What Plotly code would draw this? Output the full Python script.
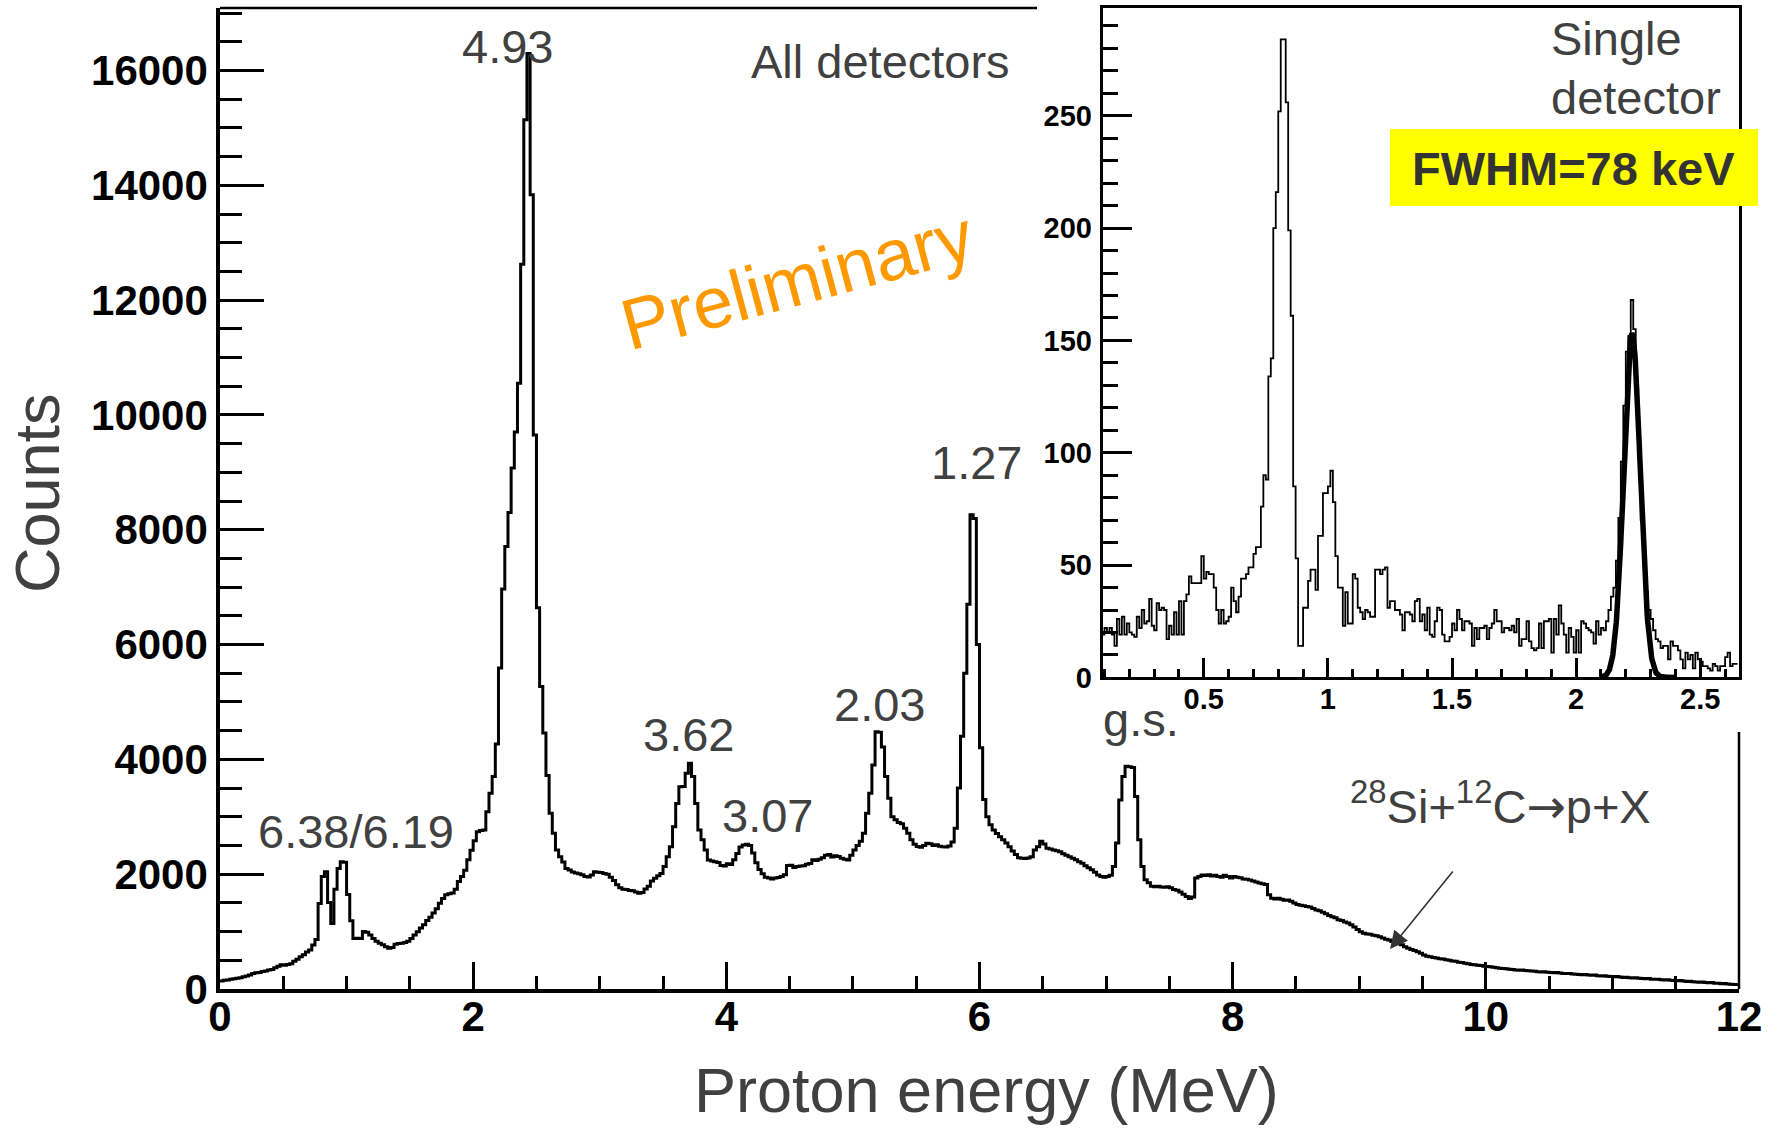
import plotly.graph_objects as go

W, H = 1777, 1131

# ---------------- All-detector proton spectrum (0.025 MeV bins, 0-12 MeV) ----------------
MAIN_BIN = 0.025
main_counts = [
    140, 152, 158, 171, 178, 188, 197, 214, 228, 246,
    268, 281, 288, 307, 313, 332, 341, 372, 398, 421,
    412, 427, 438, 482, 518, 563, 598, 644, 678, 765,
    862, 1490, 1958, 2042, 1508, 1142, 1738, 2098, 2218, 2206,
    1648, 1188, 878, 886, 880, 1002, 988, 942, 878, 832,
    798, 772, 738, 712, 722, 781, 792, 798, 812, 834,
    878, 942, 998, 1062, 1118, 1192, 1248, 1322, 1398, 1492,
    1578, 1642, 1658, 1672, 1738, 1872, 1958, 2068, 2252, 2418,
    2582, 2738, 2762, 2771, 3088, 3408, 3702, 4268, 5590, 6968,
    7708, 8302, 9078, 9702, 10552, 12624, 15144, 16296, 13838, 9650,
    6640, 5268, 4458, 3718, 3062, 2712, 2422, 2302, 2212, 2098,
    2072, 2038, 2022, 2008, 1992, 1958, 1952, 1988, 2042, 2036,
    2028, 2012, 1998, 1948, 1892, 1818, 1762, 1738, 1732, 1718,
    1712, 1688, 1668, 1682, 1742, 1788, 1882, 1928, 1972, 2012,
    2132, 2302, 2478, 2828, 3232, 3522, 3528, 3758, 3932, 3702,
    3232, 2772, 2598, 2422, 2248, 2232, 2218, 2202, 2152, 2142,
    2182, 2168, 2252, 2362, 2472, 2508, 2522, 2498, 2368, 2198,
    2082, 2008, 1948, 1932, 1918, 1932, 1942, 1958, 1992, 2152,
    2158, 2118, 2132, 2142, 2148, 2172, 2188, 2252, 2238, 2262,
    2288, 2332, 2342, 2298, 2322, 2308, 2278, 2262, 2248, 2332,
    2422, 2498, 2572, 2712, 3062, 3408, 3902, 4482, 4472, 4218,
    3702, 3322, 3002, 2948, 2902, 2878, 2802, 2712, 2598, 2522,
    2482, 2468, 2502, 2538, 2532, 2498, 2512, 2488, 2478, 2472,
    2492, 2562, 2802, 3502, 4402, 5502, 6702, 8262, 8198, 6002,
    4202, 3302, 3002, 2862, 2772, 2708, 2652, 2598, 2542, 2478,
    2402, 2342, 2288, 2278, 2272, 2282, 2302, 2422, 2478, 2572,
    2528, 2452, 2438, 2422, 2408, 2392, 2358, 2332, 2302, 2278,
    2252, 2218, 2192, 2148, 2112, 2078, 2032, 1988, 1962, 1948,
    1958, 1982, 2132, 2542, 3292, 3702, 3882, 3872, 3858, 3352,
    2598, 2132, 1902, 1852, 1788, 1782, 1792, 1778, 1772, 1782,
    1762, 1732, 1722, 1688, 1652, 1612, 1578, 1602, 1932, 1962,
    1988, 1978, 1992, 1968, 1982, 1958, 1948, 1982, 1962, 1932,
    1958, 1948, 1938, 1918, 1912, 1898, 1882, 1862, 1848, 1832,
    1822, 1642, 1582, 1568, 1582, 1562, 1548, 1552, 1528, 1498,
    1472, 1458, 1452, 1438, 1428, 1402, 1378, 1362, 1338, 1312,
    1282, 1258, 1242, 1208, 1192, 1168, 1148, 1118, 1082, 1038,
    998, 972, 958, 952, 938, 928, 912, 888, 868, 852,
    828, 812, 788, 772, 738, 712, 688, 672, 648, 622,
    592, 572, 562, 548, 542, 528, 522, 508, 502, 488,
    482, 468, 462, 448, 442, 428, 422, 412, 408, 398,
    392, 388, 378, 372, 362, 358, 352, 342, 338, 332,
    328, 332, 322, 318, 312, 308, 302, 298, 302, 292,
    288, 282, 286, 278, 272, 268, 272, 262, 258, 252,
    248, 252, 242, 238, 242, 232, 228, 232, 222, 218,
    212, 216, 208, 202, 206, 198, 192, 196, 188, 182,
    178, 182, 172, 168, 172, 162, 158, 162, 152, 148,
    142, 146, 138, 132, 136, 128, 122, 118, 122, 112,
    108, 112, 102, 98, 92, 96, 88, 82, 78, 80,
]

# ---------------- Single-detector spectrum (0.01 bins starting at 0.09) ----------------
INSET_START = 0.09
INSET_BIN = 0.01
inset_counts = [
    19, 22, 20, 22, 19, 14, 26, 19, 27, 19,
    24, 20, 19, 18, 27, 22, 30, 24, 25, 35,
    23, 21, 33, 30, 31, 30, 17, 23, 19, 29,
    19, 34, 19, 34, 37, 45, 42, 42, 42, 42,
    54, 44, 47, 46, 46, 40, 30, 24, 30, 24,
    25, 27, 40, 34, 29, 36, 44, 44, 46, 49,
    49, 55, 58, 58, 76, 90, 88, 134, 142, 200,
    216, 252, 284, 284, 256, 199, 161, 85, 53, 14,
    14, 31, 31, 43, 48, 48, 39, 63, 63, 82,
    82, 85, 92, 78, 54, 40, 40, 23, 38, 24,
    24, 46, 44, 31, 29, 26, 30, 29, 27, 27,
    48, 48, 46, 48, 49, 31, 34, 34, 30, 30,
    28, 21, 29, 29, 28, 25, 34, 35, 25, 28,
    21, 31, 19, 18, 25, 31, 30, 19, 16, 16,
    18, 24, 21, 30, 26, 21, 25, 25, 24, 14,
    22, 17, 22, 22, 23, 17, 22, 24, 30, 25,
    25, 20, 22, 22, 21, 23, 20, 26, 14, 17,
    17, 25, 16, 13, 12, 13, 24, 13, 25, 25,
    26, 11, 26, 19, 32, 24, 19, 11, 22, 18,
    11, 21, 11, 25, 24, 22, 21, 20, 15, 25,
    19, 22, 21, 25, 30, 36, 40, 52, 71, 96,
    121, 145, 152, 168, 155, 129, 100, 70, 54, 38,
    30, 26, 21, 17, 16, 13, 14, 14, 8, 16,
    14, 14, 12, 8, 4, 11, 8, 10, 4, 11,
    8, 7, 5, 5, 4, 3, 6, 5, 3, 5,
    5, 9, 11, 5, 6, 6,
]

# Gaussian fit of the elastic peak
FIT_MEAN = 2.225
FIT_FWHM_KEV = 78
FIT_AMPLITUDE = 153
FIT_RANGE = (2.10, 2.40)

peak_labels = ["6.38/6.19", "4.93", "3.62", "3.07", "2.03", "1.27", "g.s."]
peak_label_px = [(356, 831), (507, 47), (688, 734), (767, 815), (879, 704), (976, 462), (1141, 719)]

FONT = "Liberation Sans, Arial, sans-serif"
TEXT_GREY = "#404040"


def paper(x, y):
    """Page pixel position -> paper coordinates (margins are zero)."""
    return x / W, 1 - y / H


def step_xy(start, width, counts):
    xs = [start + i * width for i in range(len(counts))] + [start + len(counts) * width]
    ys = list(counts) + [counts[-1]]
    return xs, ys


mx, my = step_xy(0.0, MAIN_BIN, main_counts)
ix, iy = step_xy(INSET_START, INSET_BIN, inset_counts)

sigma = FIT_FWHM_KEV / 1000.0 / 2.3548
n_fit = 200
fx = [FIT_RANGE[0] + (FIT_RANGE[1] - FIT_RANGE[0]) * k / n_fit for k in range(n_fit + 1)]
fy = [FIT_AMPLITUDE * 2.718281828 ** (-0.5 * ((v - FIT_MEAN) / sigma) ** 2) for v in fx]

fig = go.Figure()
fig.add_trace(go.Scatter(x=mx, y=my, mode="lines", line=dict(shape="hv", color="black", width=3),
                         xaxis="x", yaxis="y", showlegend=False, hoverinfo="skip"))
fig.add_trace(go.Scatter(x=ix, y=iy, mode="lines", line=dict(shape="hv", color="black", width=1.8),
                         xaxis="x2", yaxis="y2", showlegend=False, hoverinfo="skip"))
fig.add_trace(go.Scatter(x=fx, y=fy, mode="lines", line=dict(color="black", width=5.5),
                         xaxis="x2", yaxis="y2", showlegend=False, hoverinfo="skip"))

main_left, main_right, main_top, main_bottom = 220, 1739, 8, 989
in_left, in_right, in_top, in_bottom = 1102.5, 1738.5, 8, 677.4

tick_font_main = dict(family=FONT, size=42, color="black", weight="bold")
tick_font_inset = dict(family=FONT, size=29, color="black", weight="bold")

fig.update_layout(
    width=W, height=H,
    margin=dict(l=0, r=0, t=0, b=0, autoexpand=False),
    paper_bgcolor="white", plot_bgcolor="white",
    showlegend=False,
    xaxis=dict(domain=[main_left / W, main_right / W], range=[0, 12], anchor="y", automargin=False,
               showline=True, linecolor="black", linewidth=3.5, mirror=False,
               ticks="inside", ticklen=27, tickwidth=3, tickcolor="black",
               tick0=0, dtick=2, tickfont=tick_font_main, ticklabelstandoff=-12,
               minor=dict(ticks="inside", ticklen=13, tickwidth=3, tickcolor="black", dtick=0.5, tick0=0),
               showgrid=False, zeroline=False),
    yaxis=dict(domain=[1 - main_bottom / H, 1 - main_top / H], range=[0, 17090], anchor="x", automargin=False,
               showline=True, linecolor="black", linewidth=3.5, mirror=False,
               ticks="inside", ticklen=44, tickwidth=3, tickcolor="black",
               tick0=0, dtick=2000, tickformat="d", tickfont=tick_font_main, ticklabelstandoff=0,
               minor=dict(ticks="inside", ticklen=22, tickwidth=3, tickcolor="black", dtick=500, tick0=0),
               showgrid=False, zeroline=False),
    xaxis2=dict(domain=[in_left / W, in_right / W], range=[0.092, 2.654], anchor="y2", automargin=False,
                showline=True, linecolor="black", linewidth=2.5, mirror=True,
                ticks="inside", ticklen=20, tickwidth=2.5, tickcolor="black",
                tick0=0, dtick=0.5, tickfont=tick_font_inset, ticklabelstandoff=-6,
                minor=dict(ticks="inside", ticklen=9, tickwidth=2.5, tickcolor="black", dtick=0.1, tick0=0),
                showgrid=False, zeroline=False),
    yaxis2=dict(domain=[1 - in_bottom / H, 1 - in_top / H], range=[0, 298], anchor="x2", automargin=False,
                showline=True, linecolor="black", linewidth=2.5, mirror=True,
                ticks="inside", ticklen=30, tickwidth=2.5, tickcolor="black",
                tick0=0, dtick=50, tickfont=tick_font_inset, ticklabelstandoff=2,
                minor=dict(ticks="inside", ticklen=16, tickwidth=2.5, tickcolor="black", dtick=10, tick0=0),
                showgrid=False, zeroline=False),
)

shapes = []
# upper and right edges of the main frame (partly hidden behind the inset)
x0, y0 = paper(main_left, main_top)
x1, _ = paper(1037, main_top)
shapes.append(dict(type="line", xref="paper", yref="paper", x0=x0, y0=y0, x1=x1, y1=y0,
                   line=dict(color="black", width=2.5), layer="above"))
xr, yr0 = paper(main_right, 732)
_, yr1 = paper(main_right, main_bottom)
shapes.append(dict(type="line", xref="paper", yref="paper", x0=xr, y0=yr0, x1=xr, y1=yr1,
                   line=dict(color="black", width=2.5), layer="above"))
# yellow highlight box for the resolution
bx0, by0 = paper(1390, 129)
bx1, by1 = paper(1758, 206)
shapes.append(dict(type="rect", xref="paper", yref="paper", x0=bx0, y0=by1, x1=bx1, y1=by0,
                   fillcolor="#FFFF00", line=dict(width=0), layer="above"))
fig.update_layout(shapes=shapes)

ann = []


def text_at(txt, x, y, size, color=TEXT_GREY, xanchor="center", angle=0, weight="normal"):
    px_, py_ = paper(x, y)
    ann.append(dict(text=txt, x=px_, y=py_, xref="paper", yref="paper", showarrow=False,
                    xanchor=xanchor, yanchor="middle", textangle=angle,
                    font=dict(family=FONT, size=size, color=color, weight=weight)))


for lbl, (lx, ly) in zip(peak_labels, peak_label_px):
    text_at(lbl, lx, ly, 47)

text_at("All detectors", 880, 62, 47)
text_at("Preliminary", 797, 280, 72, color="#FF9900", angle=-15)
text_at("Single", 1549, 39, 47, xanchor="left")
text_at("detector", 1549, 97, 47, xanchor="left")
text_at("FWHM=78 keV", 1573, 168, 47, color="#333333", weight="bold")
text_at("<sup>28</sup>Si+<sup>12</sup>C<span style=\"font-family:DejaVu Sans\">\u2192</span>p+X",
        1500, 803, 47)
text_at("Proton energy (MeV)", 986, 1090, 63)
text_at("Counts", 37, 493, 63, angle=-90)

# arrow pointing at the continuum
hx, hy = paper(1390, 949)
ann.append(dict(text="", x=hx, y=hy, xref="paper", yref="paper", showarrow=True,
                ax=1454 - 1390, ay=870 - 949, axref="pixel", ayref="pixel",
                arrowhead=2, arrowsize=2.2, arrowwidth=1.6, arrowcolor="#333333", standoff=0))

fig.update_layout(annotations=ann)

fig.write_html("out.html")
